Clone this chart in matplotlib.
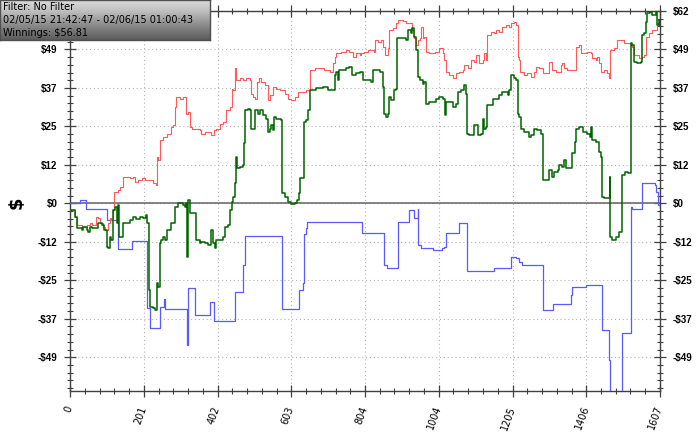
import numpy as np
import matplotlib
matplotlib.use('Agg')
import matplotlib.pyplot as plt
from matplotlib.ticker import FixedLocator, FuncFormatter

# winnings (green)
green_x = [0, 10, 14, 18, 32, 36, 45, 50, 54, 59, 72, 77, 86, 93, 100, 104, 109, 113, 118, 122,
           127, 131, 134, 140, 145, 154, 163, 172, 181, 190, 199, 208, 211, 215, 218, 226, 231, 236,
           240, 245, 249, 254, 258, 263, 272, 276, 285, 294, 308, 313, 317, 320, 322, 326, 335, 344,
           353, 358, 367, 376, 385, 390, 394, 399, 408, 417, 421, 431, 435, 440, 444, 449, 451, 455,
           462, 471, 473, 476, 485, 491, 494, 501, 505, 512, 517, 526, 535, 539, 544, 548, 553, 556,
           562, 576, 578, 585, 594, 603, 612, 618, 624, 627, 634, 637, 644, 648, 653, 662, 671, 689,
           702, 716, 721, 725, 730, 734, 743, 752, 761, 769, 780, 789, 798, 811, 820, 825, 834, 843,
           852, 855, 861, 866, 870, 875, 882, 888, 891, 902, 915, 920, 929, 931, 936, 943, 947, 954,
           961, 965, 970, 979, 988, 997, 1006, 1015, 1022, 1024, 1033, 1042, 1051, 1056, 1065, 1074,
           1079, 1081, 1088, 1097, 1101, 1106, 1110, 1119, 1124, 1128, 1133, 1136, 1147, 1151, 1160,
           1169, 1178, 1183, 1192, 1196, 1201, 1210, 1214, 1219, 1223, 1228, 1237, 1251, 1255, 1264,
           1273, 1282, 1287, 1300, 1305, 1312, 1319, 1328, 1332, 1341, 1346, 1350, 1364, 1368, 1376,
           1379, 1387, 1396, 1409, 1416, 1418, 1423, 1432, 1441, 1445, 1448, 1454, 1468, 1470, 1471,
           1477, 1486, 1495, 1503, 1504, 1513, 1521, 1527, 1532, 1536, 1545, 1554, 1557, 1563, 1568,
           1572, 1581, 1586, 1595, 1599, 1604, 1607]
green_y = [-2.1, -2.1, -4.3, -8.0, -8.5, -7.5, -8.5, -9.1, -7.5, -8.0, -8.0, -6.4, -6.9, -8.5, -13.9,
           -14.4, -10.7, -11.8, -2.1, -1.1, -6.4, -0.5, -10.7, -10.7, -6.4, -6.4, -5.3, -4.3, -5.1,
           -4.3, -4.8, -3.7, -6.4, -27.8, -33.1, -33.7, -34.2, -25.6, -26.7, -12.8, -11.8, -10.7,
           -11.8, -8.5, -8.5, -6.4, -1.1, 0.0, -0.5, -1.1, 0.0, -17.1, 1.1, -3.2, -3.2, -11.8, -12.8,
           -12.3, -12.8, -13.4, -8.5, -12.8, -14.4, -11.7, -11.7, -10.7, -7.5, -6.9, -2.1, 0.5, 2.1,
           6.4, 14.9, 11.2, 11.7, 12.3, 19.2, 29.9, 30.4, 29.9, 24.0, 24.0, 29.9, 28.8, 30.1, 28.3,
           27.2, 23.0, 24.0, 25.1, 23.5, 27.8, 27.2, 26.7, 3.2, 2.1, 0.5, -0.2, 0.0, 1.1, 3.2, 8.0,
           8.0, 26.2, 26.7, 29.9, 36.3, 36.5, 37.1, 37.4, 36.3, 36.3, 41.1, 42.2, 39.5, 42.7, 42.7,
           43.3, 43.6, 41.1, 41.7, 42.2, 39.5, 39.5, 39.0, 42.7, 42.7, 42.2, 37.4, 28.8, 27.8, 28.8,
           34.2, 33.1, 36.3, 36.8, 52.9, 52.9, 52.3, 55.5, 54.5, 56.1, 53.4, 49.1, 40.6, 39.5, 38.4,
           39.0, 32.0, 32.6, 32.6, 33.6, 34.2, 33.6, 28.3, 32.6, 32.6, 31.0, 32.0, 35.8, 36.3, 37.9,
           35.2, 22.4, 21.9, 21.9, 25.1, 25.1, 21.9, 22.4, 27.2, 24.0, 24.6, 31.5, 31.5, 33.6, 33.6,
           34.7, 35.8, 35.8, 34.7, 36.3, 41.1, 40.1, 39.5, 28.8, 27.8, 24.0, 23.0, 21.4, 21.9, 24.0,
           23.5, 22.4, 7.5, 7.5, 10.7, 8.5, 10.1, 10.7, 12.3, 11.7, 13.9, 11.2, 11.2, 16.0, 19.8,
           24.0, 24.6, 23.0, 22.4, 21.4, 24.6, 20.3, 19.8, 16.6, 15.0, 2.1, 1.6, 1.6, 8.5, -10.7,
           -11.7, -10.7, -9.1, -8.5, 9.1, 10.1, 9.6, 51.3, 50.7, 45.4, 44.9, 45.4, 53.9, 54.5, 58.2,
           60.9, 61.4, 60.3, 61.4, 57.1, 58.7, 56.8]

# red series
red_x = [0, 14, 18, 32, 45, 54, 59, 72, 77, 82, 91, 95, 100, 104, 109, 113, 118, 121, 127, 131,
         136, 145, 154, 163, 172, 177, 186, 195, 204, 213, 227, 233, 236, 240, 245, 254, 263, 272,
         276, 281, 286, 290, 299, 308, 315, 322, 326, 331, 344, 354, 358, 367, 376, 385, 392, 399,
         408, 417, 426, 435, 440, 444, 449, 453, 462, 471, 480, 489, 494, 499, 503, 508, 515, 521,
         530, 539, 544, 553, 562, 571, 585, 594, 603, 612, 621, 630, 644, 653, 654, 666, 680, 693,
         707, 716, 721, 725, 739, 752, 761, 770, 779, 789, 793, 802, 811, 820, 828, 831, 838, 848,
         852, 857, 866, 870, 879, 888, 893, 906, 915, 925, 931, 936, 943, 947, 952, 956, 961, 965,
         970, 979, 993, 1006, 1015, 1020, 1024, 1033, 1042, 1051, 1060, 1070, 1074, 1083, 1092,
         1101, 1106, 1115, 1124, 1128, 1133, 1136, 1147, 1156, 1160, 1169, 1178, 1187, 1196, 1201,
         1210, 1214, 1219, 1223, 1225, 1232, 1237, 1246, 1255, 1264, 1269, 1278, 1287, 1300, 1305,
         1314, 1323, 1337, 1341, 1346, 1355, 1368, 1377, 1387, 1391, 1400, 1409, 1418, 1423, 1432,
         1436, 1441, 1445, 1454, 1464, 1468, 1470, 1482, 1491, 1500, 1509, 1518, 1527, 1532, 1536,
         1550, 1559, 1563, 1568, 1577, 1586, 1595, 1599, 1604, 1607]
red_y = [-2.1, -4.3, -7.0, -7.5, -7.0, -6.4, -7.0, -4.3, -4.8, -6.4, -7.5, -8.5, -8.5, -6.4, -4.8,
         -5.3, -2.1, 3.7, 3.7, 4.3, 5.3, 8.5, 8.5, 8.0, 8.5, 6.9, 7.5, 8.0, 7.5, 7.5, 6.4, 5.9, 14.9,
         13.9, 20.3, 21.4, 22.4, 22.4, 24.6, 25.1, 31.0, 34.2, 33.6, 34.2, 28.8, 29.4, 24.6, 24.0,
         24.0, 23.5, 22.4, 23.0, 23.0, 21.9, 23.5, 24.0, 25.6, 26.2, 29.9, 31.0, 36.8, 36.3, 43.3,
         39.5, 40.1, 39.5, 40.1, 39.5, 35.2, 34.2, 33.6, 39.0, 40.1, 39.0, 37.9, 33.1, 34.7, 37.4,
         36.8, 36.3, 35.2, 33.6, 33.3, 34.0, 35.8, 35.8, 36.3, 36.3, 42.7, 43.3, 43.3, 42.7, 42.2,
         44.9, 47.0, 48.1, 48.6, 49.1, 48.6, 47.0, 48.1, 47.5, 48.1, 48.6, 49.1, 49.3, 48.6, 52.3,
         51.8, 52.3, 50.2, 47.5, 49.7, 55.5, 56.1, 57.7, 58.7, 58.5, 57.7, 57.7, 55.5, 52.9, 50.7,
         52.3, 52.9, 56.6, 52.9, 53.4, 48.6, 48.1, 48.6, 49.7, 48.1, 45.9, 42.2, 41.1, 40.1, 41.7,
         42.2, 42.7, 44.3, 43.3, 45.9, 45.4, 47.5, 44.9, 45.9, 48.1, 45.9, 53.9, 55.0, 54.5, 55.5,
         55.0, 56.6, 57.1, 56.6, 57.9, 58.2, 57.1, 47.0, 45.9, 42.2, 42.2, 41.1, 41.7, 40.6, 42.2,
         43.8, 43.3, 41.7, 41.7, 45.4, 42.7, 42.2, 44.3, 44.9, 43.3, 42.7, 42.7, 50.2, 50.7, 48.1,
         48.1, 48.6, 48.1, 46.5, 45.9, 47.0, 44.9, 42.2, 42.7, 41.7, 40.1, 49.1, 49.7, 52.3, 52.3,
         51.3, 51.3, 50.7, 50.2, 47.5, 46.5, 47.0, 47.5, 53.4, 54.5, 55.5, 55.5, 57.7, 57.1, 57.1]

# blue series
blue_x = [0, 27, 43, 100, 131, 170, 211, 217, 245, 256, 258, 319, 321, 341, 380, 392, 450, 472,
          476, 577, 624, 635, 637, 643, 645, 795, 855, 864, 893, 922, 936, 947, 949, 955, 988, 1012,
          1020, 1024, 1060, 1080, 1154, 1201, 1214, 1223, 1232, 1287, 1316, 1364, 1367, 1405, 1448,
          1450, 1468, 1471, 1504, 1527, 1530, 1557, 1593, 1597, 1602, 1607]
blue_y = [0.2, 1.1, -1.8, -5.3, -14.7, -12.0, -33.6, -40.0, -33.1, -30.8, -34.0, -45.4, -27.2,
          -35.8, -31.5, -37.7, -28.3, -19.8, -10.4, -34.0, -27.8, -25.6, -9.8, -8.0, -5.9, -9.4,
          -19.8, -20.8, -5.9, -2.1, -4.8, -1.9, -13.4, -14.4, -15.0, -14.4, -13.9, -9.4, -6.2, -21.7,
          -20.8, -17.1, -17.6, -18.7, -19.8, -34.2, -32.3, -29.4, -26.7, -26.2, -39.0, -40.6, -50.2,
          -72.0, -41.7, -1.1, -1.9, 6.6, 5.9, 3.7, -0.5, -1.1]

x_max = 1607
y_top = 61.7
y_bottom = -60.2
y_step = y_top / 5

fig = plt.figure(figsize=(7, 4.34), dpi=100)
ax = fig.add_axes([70 / 700, 1 - 391 / 434, 590 / 700, 380 / 434])

ax.plot(blue_x, blue_y, drawstyle='steps-post', color='#5a5aff', lw=0.9, zorder=3)
ax.plot(red_x, red_y, drawstyle='steps-post', color='#ff5a5a', lw=0.8, zorder=4)
ax.plot(green_x, green_y, drawstyle='steps-post', color='#006400', lw=1.1, zorder=5)
ax.axhline(0, color='#6e6e6e', lw=1.2, zorder=2)

ax.set_xlim(0, x_max)
ax.set_ylim(y_bottom, y_top)

ax.xaxis.set_major_locator(FixedLocator(np.linspace(0, x_max, 9)))
ax.xaxis.set_minor_locator(FixedLocator(np.linspace(0, x_max, 41)))
ax.xaxis.set_major_formatter(FuncFormatter(lambda v, p: f"{v:.0f}"))

yt = [k * y_step for k in range(-4, 6)]
ax.yaxis.set_major_locator(FixedLocator(yt))
ax.yaxis.set_minor_locator(FixedLocator([k * y_step / 5 for k in range(-25, 26)]))


def money(v, p):
    v = round(v)
    return f"-${-v}" if v < 0 else f"${v}"


ax.yaxis.set_major_formatter(FuncFormatter(money))

ax.grid(True, which='major', color='#b4b4b4', lw=0.8, linestyle=(0, (1, 2.5)))
for s in ax.spines.values():
    s.set_color('#404040')
    s.set_linewidth(1.0)

ax.tick_params(which='both', direction='inout', top=True, right=True,
               labelright=True, labelleft=True, color='#404040')
ax.tick_params(which='major', length=8, width=0.9)
ax.tick_params(which='minor', length=5, width=0.8)
ax.tick_params(axis='y', labelsize=7, pad=5)
ax.tick_params(axis='x', labelsize=7, pad=7)
for lab in ax.get_yticklabels():
    lab.set_fontweight('bold')
    lab.set_family('Liberation Sans')
for lab in ax.get_xticklabels():
    lab.set_rotation(70)
    lab.set_ha('right')
    lab.set_va('center')
    lab.set_rotation_mode('anchor')
    lab.set_family('DejaVu Sans')
# the top-left label sits under the info box
ax.yaxis.get_major_ticks()[-1].label1.set_visible(False)

fig.text(17 / 700, 1 - 203 / 434, '$', rotation=90, fontsize=13, fontweight='bold',
         ha='center', va='center')

# info box in the corner
bax = fig.add_axes([0, 1 - 40 / 434, 210 / 700, 40 / 434], zorder=10)
grad = np.linspace(0, 1, 50).reshape(-1, 1)
bax.imshow(grad, aspect='auto', cmap='Greys', vmin=-0.5, vmax=1.6, extent=[0, 1, 0, 1])
bax.set_xticks([])
bax.set_yticks([])
for s in bax.spines.values():
    s.set_color('#505050')
    s.set_linewidth(1.0)
box_lines = ['Filter: No Filter', '02/05/15 21:42:47 - 02/06/15 01:00:43', 'Winnings: $56.81']
for i, t in enumerate(box_lines):
    bax.text(3 / 210, 1 - (7 + 13 * i) / 40, t, fontsize=7, family='DejaVu Sans',
             ha='left', va='center', transform=bax.transAxes)

fig.savefig('out.png', dpi=100)
